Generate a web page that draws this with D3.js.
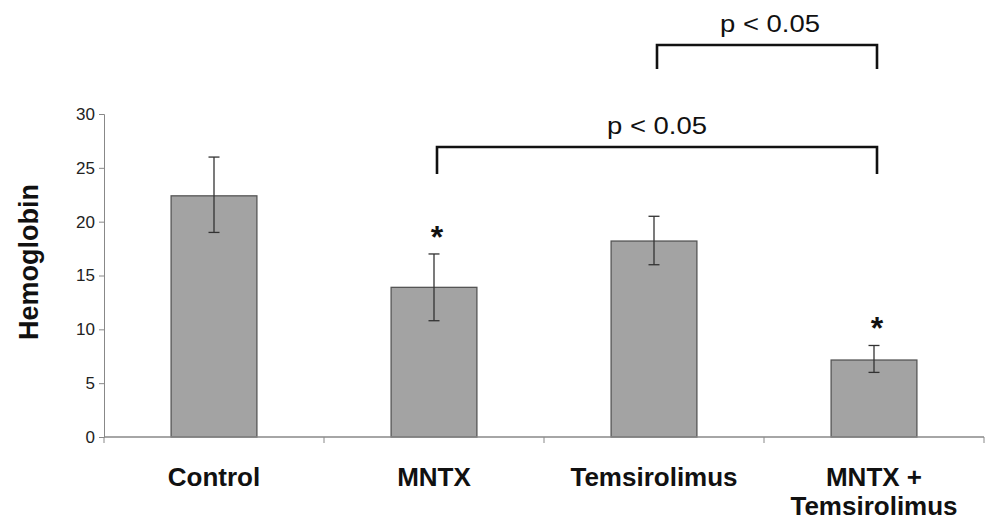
<!DOCTYPE html>
<html>
<head>
<meta charset="utf-8">
<script src="https://cdn.jsdelivr.net/npm/d3@7"></script>
<style>
  body { margin: 0; background: #fff; }
  .tick text { font-family: "Liberation Sans", Arial, sans-serif; font-size: 17px; fill: #222; }
  .catLabel { font-family: "Liberation Sans", Arial, sans-serif; font-size: 26px; font-weight: bold; fill: #111; }
  .axisLabel { font-family: "Liberation Sans", Arial, sans-serif; font-size: 27px; font-weight: bold; fill: #111; }
  .pLabel { font-family: "Liberation Sans", Arial, sans-serif; font-size: 23px; fill: #111; }
</style>
</head>
<body>
<script>
// data
let categories = ["Control", "MNTX", "Temsirolimus", "MNTX + Temsirolimus"];
let means = [22.4, 13.9, 18.2, 7.15];
let errLow = [19.0, 10.8, 16.0, 6.0];
let errHigh = [26.0, 17.0, 20.5, 8.5];
let starred = [false, true, false, true];
let yTicks = [0, 5, 10, 15, 20, 25, 30];
// significance brackets: [from, to, label]
let brackets = [
  ["Temsirolimus", "MNTX + Temsirolimus", "p < 0.05"],
  ["MNTX", "MNTX + Temsirolimus", "p < 0.05"]
];

let width = 986, height = 523;
let margin = {top: 114, right: 2, bottom: 86, left: 104};
let innerW = width - margin.left - margin.right;
let innerH = height - margin.top - margin.bottom;

let svg = d3.select("body").append("svg")
  .attr("width", width)
  .attr("height", height);

let g = svg.append("g")
  .attr("transform", "translate(" + margin.left + "," + margin.top + ")");

let xScale = d3.scaleBand()
  .domain(categories)
  .range([0, innerW])
  .paddingInner(0.61)
  .paddingOuter(0.305);

let yScale = d3.scaleLinear()
  .domain([0, 30])
  .range([innerH, 0]);

// y axis
let yAxis = g.append("g")
  .call(d3.axisLeft(yScale).tickValues(yTicks).tickSize(5).tickPadding(4));
yAxis.select(".domain").attr("stroke", "#888");
yAxis.selectAll(".tick line").attr("stroke", "#888");

// bars
g.selectAll(".bar")
  .data(means)
  .enter().append("rect")
  .attr("class", "bar")
  .attr("x", function(d, i) { return xScale(categories[i]); })
  .attr("y", function(d) { return yScale(d); })
  .attr("width", xScale.bandwidth())
  .attr("height", function(d) { return innerH - yScale(d); })
  .attr("fill", "#a3a3a3")
  .attr("stroke", "#555")
  .attr("stroke-width", 1.3);

// x axis with ticks between categories
let step = xScale.step();
g.append("line")
  .attr("x1", 0).attr("x2", innerW)
  .attr("y1", innerH).attr("y2", innerH)
  .attr("stroke", "#888").attr("stroke-width", 1.5);
g.selectAll(".xtick")
  .data(d3.range(categories.length + 1))
  .enter().append("line")
  .attr("x1", function(i) { return i * step; })
  .attr("x2", function(i) { return i * step; })
  .attr("y1", innerH).attr("y2", innerH + 6)
  .attr("stroke", "#888");

// error bars
let cx = function(i) { return xScale(categories[i]) + xScale.bandwidth() / 2; };
let cap = 5.5;
means.forEach(function(m, i) {
  let eg = g.append("g").attr("stroke", "#333").attr("stroke-width", 1.3);
  eg.append("line").attr("x1", cx(i)).attr("x2", cx(i))
    .attr("y1", yScale(errLow[i])).attr("y2", yScale(errHigh[i]));
  eg.append("line").attr("x1", cx(i) - cap).attr("x2", cx(i) + cap)
    .attr("y1", yScale(errLow[i])).attr("y2", yScale(errLow[i]));
  eg.append("line").attr("x1", cx(i) - cap).attr("x2", cx(i) + cap)
    .attr("y1", yScale(errHigh[i])).attr("y2", yScale(errHigh[i]));
  if (starred[i]) {
    g.append("text")
      .attr("x", cx(i) + 3)
      .attr("y", yScale(errHigh[i]) - 6)
      .attr("text-anchor", "middle")
      .attr("font-family", "Liberation Sans, Arial, sans-serif")
      .attr("font-size", 32)
      .attr("font-weight", "bold")
      .attr("fill", "#111")
      .text("*");
  }
});

// category labels
categories.forEach(function(c, i) {
  let t = g.append("text")
    .attr("class", "catLabel")
    .attr("text-anchor", "middle")
    .attr("x", cx(i))
    .attr("y", 486 - margin.top);
  if (c === "MNTX + Temsirolimus") {
    t.append("tspan").attr("x", cx(i)).text("MNTX +");
    t.append("tspan").attr("x", cx(i)).attr("dy", 29).text("Temsirolimus");
  } else {
    t.text(c);
  }
});

// y axis label
svg.append("text")
  .attr("class", "axisLabel")
  .attr("transform", "rotate(-90)")
  .attr("x", -262)
  .attr("y", 38)
  .attr("text-anchor", "middle")
  .text("Hemoglobin");

// significance brackets
let bracketY = [45, 147];
let bracketDrop = [24, 27];
brackets.forEach(function(b, k) {
  let x1 = margin.left + cx(categories.indexOf(b[0])) + 3;
  let x2 = margin.left + cx(categories.indexOf(b[1])) + 3;
  let y = bracketY[k];
  svg.append("path")
    .attr("d", "M" + x1 + "," + (y + bracketDrop[k]) + "V" + y + "H" + x2 + "V" + (y + bracketDrop[k]))
    .attr("fill", "none")
    .attr("stroke", "#111")
    .attr("stroke-width", 2.6);
  svg.append("text")
    .attr("class", "pLabel")
    .attr("x", (x1 + x2) / 2 + (k === 0 ? 3 : 0))
    .attr("y", y - 13)
    .attr("text-anchor", "middle")
    .attr("textLength", 100)
    .attr("lengthAdjust", "spacingAndGlyphs")
    .text(b[2]);
});
</script>
</body>
</html>
